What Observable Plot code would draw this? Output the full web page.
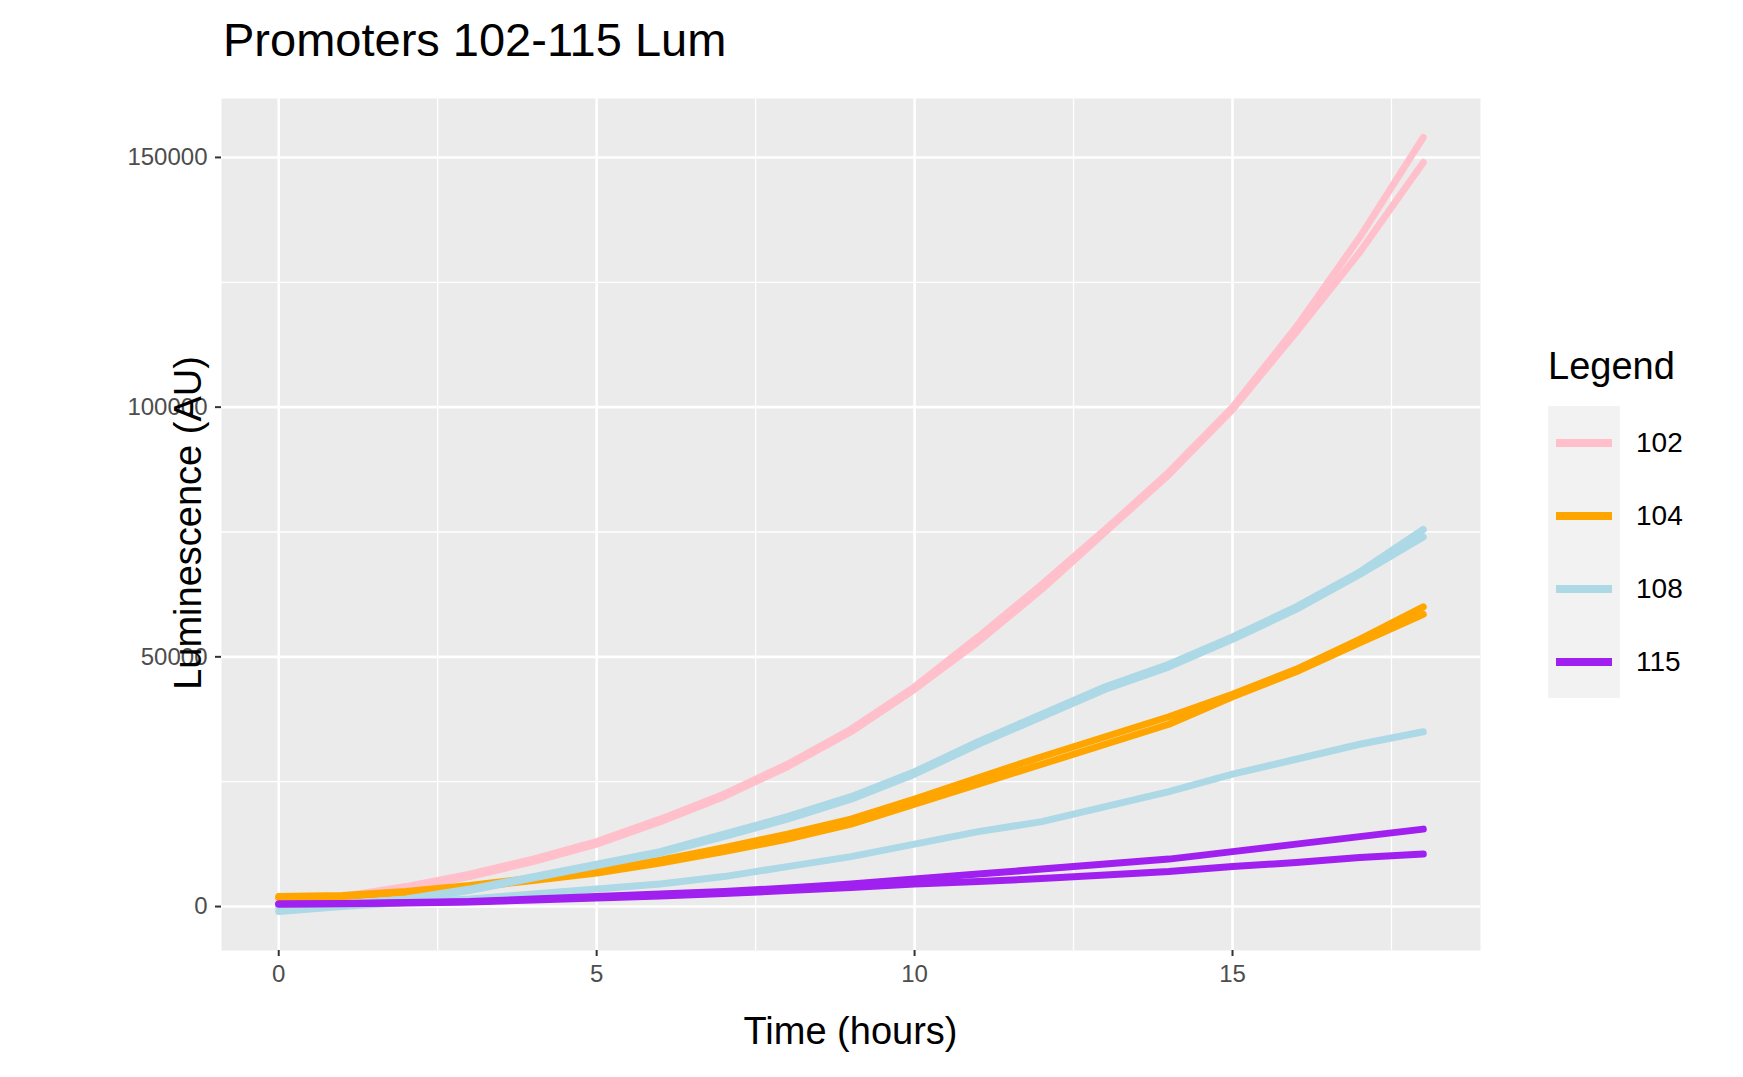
<!DOCTYPE html>
<html><head><meta charset="utf-8">
<script src="https://cdn.jsdelivr.net/npm/d3@7"></script>
<script src="https://cdn.jsdelivr.net/npm/@observablehq/plot@0.6"></script>
<style>
body{margin:0;background:#fff;font-family:"Liberation Sans",Arial,sans-serif;}
#wrap{position:relative;width:1743px;height:1077px;}
#title{position:absolute;left:223px;top:12px;font-size:47px;color:#000;}
#vis{position:absolute;left:0;top:90px;}
#xlab{position:absolute;left:221px;width:1259px;text-align:center;top:1010px;font-size:38px;}
#ylab{position:absolute;left:22px;top:523px;font-size:38px;transform:translate(0,-50%) rotate(-90deg);transform-origin:center;white-space:nowrap;}
#legend{position:absolute;left:1548px;top:345px;font-size:38px;}
.key{display:flex;align-items:center;height:73px;background:#f2f2f2;width:72px;justify-content:center}
.row{display:flex;align-items:center;}
.lab{font-size:28px;margin-left:16px;}
</style></head><body>
<div id="wrap">
<div id="title">Promoters 102-115 Lum</div>
<div id="vis"></div>
<div id="xlab">Time (hours)</div>
<div id="ylab">Luminescence (AU)</div>
<div id="legend"></div>
</div>
<script>
const hours = d3.range(0, 19)
const promoters = ['102', '104', '108', '115']
const lineColors = ['#FFC0CB', '#FFA500', '#ADD8E6', '#A020F0']

const rep102a = [1500,2000,4000,6500,9500,13000,17500,22500,28500,35500,44000,54000,64500,75500,87000,100000,116000,134000,154000]
const rep102b = [1200,1800,3500,6000,9000,12500,17000,22000,28000,35000,43500,53000,63500,75000,86500,99500,115000,131000,149000]
const rep104a = [2000,2200,3000,4200,5700,7200,9300,11800,14500,17500,21500,25800,30000,34000,38000,42500,47500,53500,60000]
const rep104b = [1800,2000,2800,3800,5200,6700,8700,11000,13500,16500,20500,24500,28500,32500,36500,42000,47000,52800,58500]
const rep108a = [0,500,1500,3500,6000,8500,11000,14500,18000,22000,27000,33000,38500,44000,48500,54000,60000,67000,75500]
const rep108b = [0,400,1300,3200,5700,8200,10700,14000,17500,21500,26500,32500,38000,43500,48000,53500,59500,66500,74000]
const rep108c = [-1000,0,800,1500,2500,3500,4500,6000,8000,10000,12500,15000,17000,20000,23000,26500,29500,32500,35000]
const rep115a = [500,600,800,1000,1500,2000,2500,3000,3700,4500,5500,6500,7500,8500,9500,11000,12500,14000,15500]
const rep115b = [500,550,700,900,1300,1700,2100,2600,3200,3800,4500,5000,5600,6300,7000,8000,8800,9800,10500]

const series = [
  ['102', 'a', rep102a], ['102', 'b', rep102b],
  ['104', 'a', rep104a], ['104', 'b', rep104b],
  ['108', 'a', rep108a], ['108', 'b', rep108b], ['108', 'c', rep108c],
  ['115', 'a', rep115a], ['115', 'b', rep115b]
]
const data = series.flatMap(([p, r, vals]) => vals.map((v, i) => ({promoter: p, rep: p + r, time: hours[i], lum: v})))

const majorX = [0, 5, 10, 15], minorX = [2.5, 7.5, 12.5, 17.5]
const majorY = [0, 50000, 100000, 150000], minorY = [25000, 75000, 125000]

let chart = Plot.plot({
  width: 1540,
  height: 987,
  marginLeft: 221,
  marginRight: 60,
  marginTop: 8,
  marginBottom: 127,
  x: {domain: [-0.9, 18.9]},
  y: {domain: [-8800, 161800]},
  color: {domain: promoters, range: lineColors},
  style: {fontSize: '24px', fontFamily: 'Liberation Sans, Arial, sans-serif', color: '#4d4d4d'},
  marks: [
    Plot.frame({fill: '#EBEBEB', stroke: null}),
    Plot.ruleX(minorX, {stroke: '#fff', strokeWidth: 1.3}),
    Plot.ruleY(minorY, {stroke: '#fff', strokeWidth: 1.3}),
    Plot.ruleX(majorX, {stroke: '#fff', strokeWidth: 2.6}),
    Plot.ruleY(majorY, {stroke: '#fff', strokeWidth: 2.6}),
    Plot.axisX({ticks: majorX, tickSize: 6, tickPadding: 8, label: null, stroke: '#333', strokeWidth: 2}),
    Plot.axisY({ticks: majorY, tickSize: 6, tickPadding: 8, label: null, tickFormat: d3.format('d'), stroke: '#333', strokeWidth: 2}),
    Plot.line(data, {x: 'time', y: 'lum', z: 'rep', stroke: 'promoter', strokeWidth: 7, strokeLinejoin: 'round'})
  ]
})
d3.select('#vis').append(() => chart)

const lg = d3.select('#legend')
lg.append('div').text('Legend').style('margin-bottom', '18px')
promoters.forEach((p, i) => {
  const row = lg.append('div').attr('class', 'row')
  row.append('div').attr('class', 'key').append('div')
    .style('width', '56px').style('height', '8px').style('background', lineColors[i])
  row.append('div').attr('class', 'lab').text(p)
})
</script>
</body></html>
